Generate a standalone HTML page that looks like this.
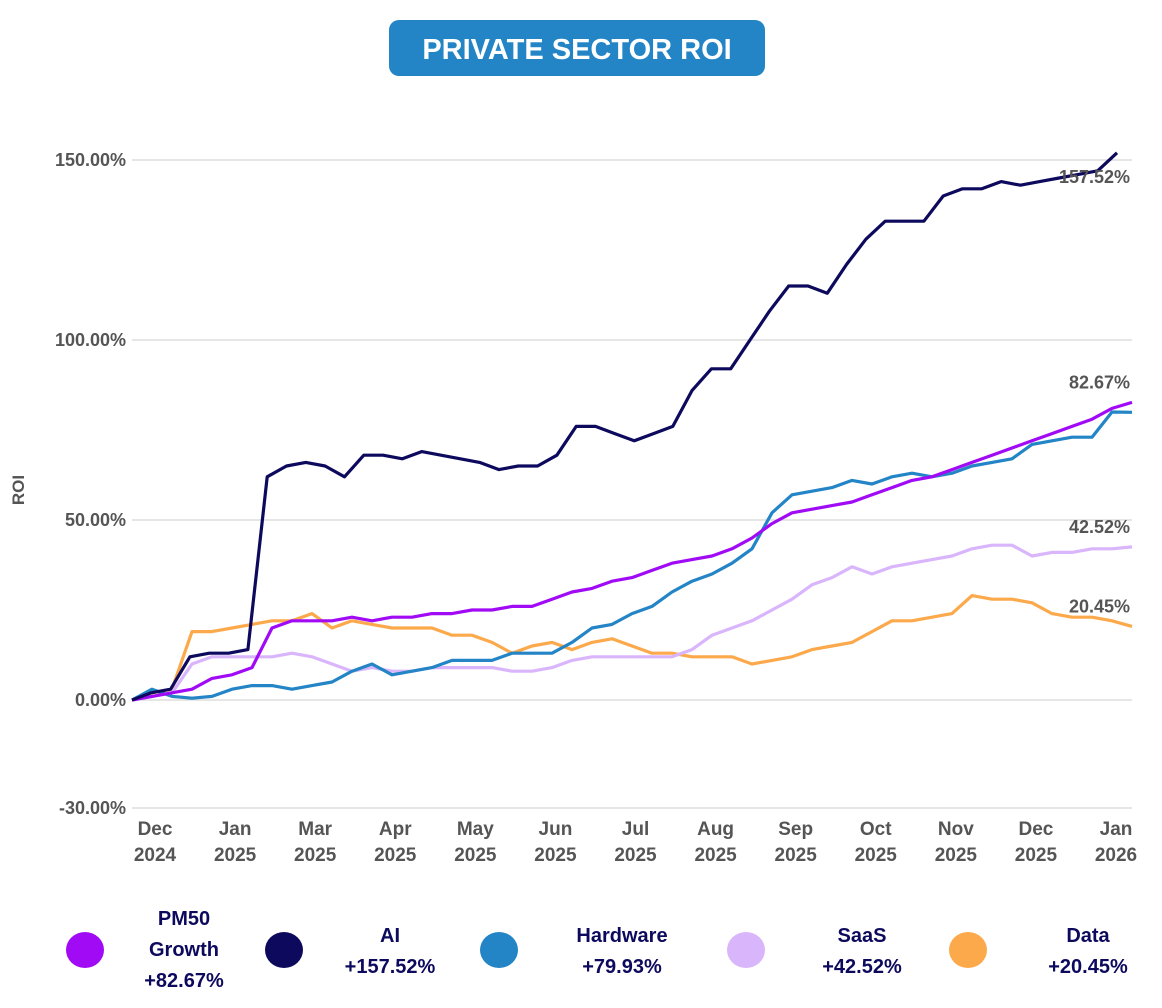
<!DOCTYPE html>
<html><head><meta charset="utf-8"><style>
body{margin:0;background:#fff;width:1162px;height:1003px;overflow:hidden;font-family:"Liberation Sans",sans-serif}
</style></head><body>
<svg id="chart" width="1162" height="1003">
<rect x="389" y="20" width="376" height="56" rx="10" fill="#2384c6"/>
<text x="577" y="59" text-anchor="middle" font-size="29" font-weight="bold" fill="#fff">PRIVATE SECTOR ROI</text>
<text transform="translate(24,490) rotate(-90)" text-anchor="middle" font-size="17" font-weight="bold" fill="#555">ROI</text>
<g id="grid"></g><g id="xl"></g><g id="lines"></g><g id="endl"></g><g id="legend"></g>
</svg>
<script>
const yTicks=[150,100,50,0,-30];
const yTickLabels=["150.00%","100.00%","50.00%","0.00%","-30.00%"];
const xMonths=["Dec","Jan","Mar","Apr","May","Jun","Jul","Aug","Sep","Oct","Nov","Dec","Jan"];
const xYears=["2024","2025","2025","2025","2025","2025","2025","2025","2025","2025","2025","2025","2026"];
const seriesNames=["PM50 Growth","AI","Hardware","SaaS","Data"];
const seriesColors=["#a10af5","#0d0a5e","#2384c6","#d9b5fb","#fba94b"];
const seriesTotals=["+82.67%","+157.52%","+79.93%","+42.52%","+20.45%"];
const ai=[0,2,3,12,13,13,14,62,65,66,65,62,68,68,67,69,68,67,66,64,65,65,68,76,76,74,72,74,76,86,92,92,100,108,115,115,113,121,128,133,133,133,140,142,142,144,143,144,145,146,147,152];
const pm50=[0,1,2,3,6,7,9,20,22,22,22,23,22,23,23,24,24,25,25,26,26,28,30,31,33,34,36,38,39,40,42,45,49,52,53,54,55,57,59,61,62,64,66,68,70,72,74,76,78,81,82.67];
const hardware=[0,3,1,0.5,1,3,4,4,3,4,5,8,10,7,8,9,11,11,11,13,13,13,16,20,21,24,26,30,33,35,38,42,52,57,58,59,61,60,62,63,62,63,65,66,67,71,72,73,73,80,79.93];
const saas=[0,1,2,10,12,12,12,12,13,12,10,8,9,8,8,9,9,9,9,8,8,9,11,12,12,12,12,12,14,18,20,22,25,28,32,34,37,35,37,38,39,40,42,43,43,40,41,41,42,42,42.52];
const data=[0,2,3,19,19,20,21,22,22,24,20,22,21,20,20,20,18,18,16,13,15,16,14,16,17,15,13,13,12,12,12,10,11,12,14,15,16,19,22,22,23,24,29,28,28,27,24,23,23,22,20.45];
const endLabels=["82.67%","157.52%","","42.52%","20.45%"];
const endValues=[82.67,152,79.93,42.52,20.45];
const ns="http://www.w3.org/2000/svg";
const X0=132,X1=1132,Y0=700,PX=3.6;
const ys=v=>Y0-v*PX;
const xs=(i,n,end)=>X0+(end-X0)*i/(n-1);
function mk(tag,attrs,parent,text){const e=document.createElementNS(ns,tag);for(const k in attrs)e.setAttribute(k,attrs[k]);if(text!==undefined)e.textContent=text;parent.appendChild(e);return e;}
const grid=document.getElementById('grid');
yTicks.forEach((t,i)=>{
 const l=mk('line',{x1:X0,x2:X1,y1:ys(t),y2:ys(t),stroke:'#d6d6d6','stroke-width':1.2},grid);
 
 
 const tx=mk('text',{x:126,y:ys(t)+6,'text-anchor':'end','font-size':18,'font-weight':'bold',fill:'#555'},grid,yTickLabels[i]);
 
 
});
const xl=document.getElementById('xl');
xMonths.forEach((m,i)=>{
 const cx=155+(1116-155)*i/(xMonths.length-1);
 const t=mk('text',{x:cx,y:835,'text-anchor':'middle','font-size':19,'font-weight':'bold',fill:'#555'},xl,m);
 
 
 const t2=mk('text',{x:cx,y:861,'text-anchor':'middle','font-size':19,'font-weight':'bold',fill:'#555'},xl,xYears[i]);
 
 
});
const all=[pm50,ai,hardware,saas,data];
const ends=[1132,1117,1132,1132,1132];
const lines=document.getElementById('lines');
[4,3,2,0,1].forEach(s=>{
 const arr=all[s];const n=arr.length;
 const d=arr.map((v,i)=>(i?'L':'M')+xs(i,n,ends[s]).toFixed(1)+','+ys(v).toFixed(1)).join(' ');
 const p=mk('path',{d:d,fill:'none',stroke:seriesColors[s],'stroke-width':3.2,'stroke-linejoin':'round'},lines);
 
 
});
const endl=document.getElementById('endl');
const endOffsets=[-14,30,0,-14,-14];
endLabels.forEach((lab,s)=>{if(!lab)return;
 const t=mk('text',{x:1130,y:ys(endValues[s])+endOffsets[s],'text-anchor':'end','font-size':18,'font-weight':'bold',fill:'#555'},endl,lab);
 
 
});
const lg=document.getElementById('legend');
const cxs=[85,284,499,746,968],txs=[184,390,622,862,1088];
seriesNames.forEach((nm,s)=>{
 const g=mk('g',{},lg);
 
 
 mk('ellipse',{cx:cxs[s],cy:950,rx:19,ry:18,fill:seriesColors[s]},g);
 const lines2=s===0?["PM50","Growth",seriesTotals[s]]:[nm,seriesTotals[s]];
 const y0=s===0?925:942;
 lines2.forEach((ln,k)=>mk('text',{x:txs[s],y:y0+k*31,'text-anchor':'middle','font-size':20,'font-weight':'bold',fill:'#0d0a5e'},g,ln));
});
</script>
</body></html>
